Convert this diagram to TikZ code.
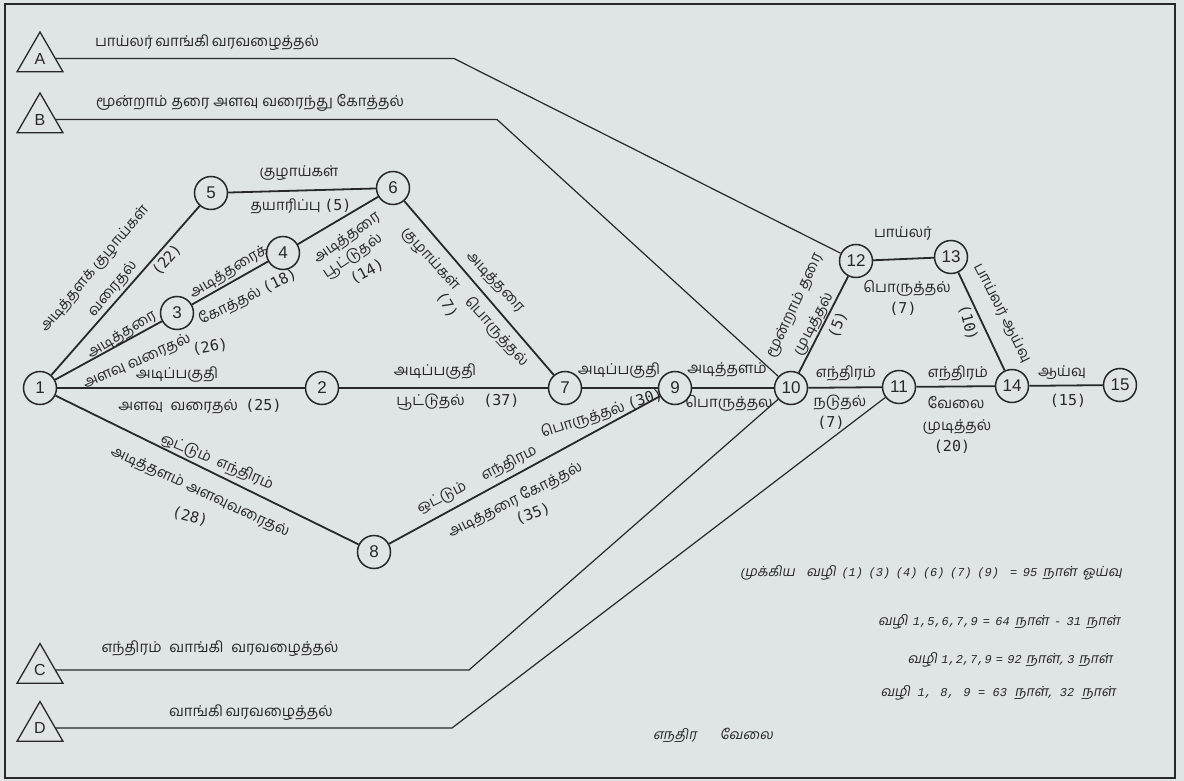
\documentclass[tikz,border=0pt]{standalone}
\usepackage{fontspec}
\setmainfont{Liberation Sans}
\newfontfamily\ta[Script=Tamil]{Hind Madurai}
\newfontfamily\tai[Script=Tamil,FakeSlant=0.18]{Hind Madurai}
\newfontfamily\dmono{DejaVu Sans Mono}
\newfontfamily\lmono{Liberation Mono}
\newcommand\pn[1]{{\dmono\fontsize{15}{16}\selectfont #1}}
\newcommand\sn[1]{{\lmono\itshape\fontsize{12}{16}\selectfont #1}}
\usetikzlibrary{shapes.geometric}
\definecolor{bgc}{RGB}{223,228,229}
\definecolor{ink}{RGB}{40,40,40}
\begin{document}
\begin{tikzpicture}[x=1pt,y=-1pt,
  ev/.style={circle,draw=ink,line width=1.5pt,minimum size=33pt,inner sep=0pt,font=\fontsize{17}{17}\selectfont,text=ink,fill=bgc},
  tri/.style={regular polygon,regular polygon sides=3,draw=ink,line width=1.3pt,minimum size=53pt,inner sep=0pt,font=\fontsize{16}{16}\selectfont,text=ink},
  act/.style={draw=ink,line width=1.8pt},
  feed/.style={draw=ink,line width=1.2pt},
  lb/.style={text=ink,inner sep=0pt,font=\ta\fontsize{15}{16}\selectfont},
  lbi/.style={text=ink,inner sep=0pt,font=\tai\fontsize{14}{16}\selectfont}]
\fill[bgc] (0,0) rectangle (1184,781);
\useasboundingbox (0,0) rectangle (1184,781);
\draw[ink,line width=1.2pt] (5,4) rectangle (1175,778);
% events
\node[ev] (n1) at (40,388) {1};
\node[ev] (n2) at (322,388) {2};
\node[ev] (n3) at (177,313) {3};
\node[ev] (n4) at (283,253) {4};
\node[ev] (n5) at (211,193) {5};
\node[ev] (n6) at (393,188) {6};
\node[ev] (n7) at (565,388) {7};
\node[ev] (n8) at (374,552) {8};
\node[ev] (n9) at (675,388) {9};
\node[ev] (n10) at (791,388) {10};
\node[ev] (n11) at (899,387) {11};
\node[ev] (n12) at (856,261) {12};
\node[ev] (n13) at (951,257) {13};
\node[ev] (n14) at (1012,386) {14};
\node[ev] (n15) at (1120,385) {15};
% feeder triangles
\node[tri] (A) at (40,58.5) {A};
\node[tri] (B) at (40,119.5) {B};
\node[tri] (C) at (40,670) {C};
\node[tri] (D) at (40,728) {D};
\coordinate (Ab) at (454,58.5);
\coordinate (Bb) at (497,119.5);
\coordinate (Cb) at (469,670);
\coordinate (Db) at (452,728);
\draw[feed] (A.east) -- (Ab) -- (n12);
\draw[feed] (B.east) -- (Bb) -- (n10);
\draw[feed] (C.east) -- (Cb) -- (n10);
\draw[feed] (D.east) -- (Db) -- (n11);
% activities
\draw[act] (n1) -- (n5);
\draw[act] (n1) -- (n3);
\draw[act] (n3) -- (n4);
\draw[act] (n4) -- (n6);
\draw[act] (n5) -- (n6);
\draw[act] (n6) -- (n7);
\draw[act] (n1) -- (n2);
\draw[act] (n2) -- (n7);
\draw[act] (n7) -- (n9);
\draw[act] (n1) -- (n8);
\draw[act] (n8) -- (n9);
\draw[act] (n9) -- (n10);
\draw[act] (n10) -- (n11);
\draw[act] (n11) -- (n14);
\draw[act] (n14) -- (n15);
\draw[act] (n10) -- (n12);
\draw[act] (n12) -- (n13);
\draw[act] (n13) -- (n14);
% horizontal labels
\node[lb] (h1) at (177,375) {அடிப்பகுதி};
\node[lb] (h2) at (200,407) {அளவு\ \ வரைதல்\ \ \pn{(25)}};
\node[lb] (h3) at (435,372) {அடிப்பகுதி};
\node[lb] (h4) at (458,402) {பூட்டுதல்\quad\ \pn{(37)}};
\node[lb] (h5) at (619,371) {அடிப்பகுதி};
\node[lb] (h6) at (299,173) {குழாய்கள்};
\node[lb] (h7) at (301,206) {தயாரிப்பு \pn{(5)}};
\node[lb] (h8) at (727,370) {அடித்தளம்};
\node[lb] (h9) at (729,403) {பொருத்தல};
\node[lb] (h10) at (846,373) {எந்திரம்};
\node[lb] (h11) at (840,403) {நடுதல்};
\node[lb] (h12) at (831,423) {\pn{(7)}};
\node[lb] (h13) at (958,373) {எந்திரம்};
\node[lb] (h14) at (956,403) {வேலை};
\node[lb] (h15) at (957,427) {முடித்தல்};
\node[lb] (h16) at (952,447) {\pn{(20)}};
\node[lb] (h17) at (1062,373) {ஆய்வு};
\node[lb] (h18) at (1068,401) {\pn{(15)}};
\node[lb] (h19) at (903,233) {பாய்லர்};
\node[lb] (h20) at (907,288) {பொருத்தல்};
\node[lb] (h21) at (903,309) {\pn{(7)}};
% sloped labels
\node[lb,rotate=50] (r1) at (95,269) {அடித்தளக் குழாய்கள்};
\node[lb,rotate=50] (r2) at (113,289) {வரைதல்};
\node[lb,rotate=50] (r3) at (167,260) {\pn{(22)}};
\node[lb,rotate=31] (r4) at (122,335) {அடித்தரை};
\node[lb,rotate=24] (r5) at (137,362) {அளவு வரைதல்};
\node[lb,rotate=10] (r6) at (210,347) {\pn{(26)}};
\node[lb,rotate=31] (r7) at (229,272) {அடித்தரைக்};
\node[lb,rotate=26] (r8) at (248,297) {கோத்தல் \pn{(18)}};
\node[lb,rotate=35] (r9) at (347,238) {அடித்தரை};
\node[lb,rotate=34] (r10) at (353,257) {பூட்டுதல்};
\node[lb,rotate=28] (r11) at (367,272) {\pn{(14)}};
\node[lb,rotate=-47] (r12) at (495,282) {அடித்தரை};
\node[lb,rotate=-48] (r13) at (465,297) {குழாய்கள்\quad பொருத்தல்};
\node[lb,rotate=-60] (r14) at (447,305) {\pn{(7)}};
\node[lb,rotate=-23] (r15) at (217,462) {ஒட்டும்\ \ எந்திரம்};
\node[lb,rotate=-25] (r16) at (200,492) {அடித்தளம்\ அளவுவரைதல்};
\node[lb,rotate=-15] (r17) at (190,517) {\pn{(28)}};
\node[lb,rotate=27] (r18) at (477,480) {ஒட்டும்\quad\ எந்திரம};
\node[lb,rotate=18] (r19) at (602,414) {பொருத்தல் \pn{(30)}};
\node[lb,rotate=27] (r20) at (515,500) {அடித்தரை கோத்தல்};
\node[lb,rotate=20] (r21) at (533,514) {\pn{(35)}};
\node[lb,rotate=65] (r22) at (795,306) {மூன்றாம் தரை};
\node[lb,rotate=62] (r23) at (814,324) {முடித்தல்};
\node[lb,rotate=68] (r24) at (838,325) {\pn{(5)}};
\node[lb,rotate=-75] (r25) at (968,323) {\pn{(10)}};
\node[lb,rotate=-63] (r26) at (1002,313) {பாய்லர் ஆய்வு};
% feeder labels
\node[lb] (ta) at (205.5,43) {\makebox[221pt][s]{பாய்லர் வாங்கி வரவழைத்தல்}};
\node[lb] (tb) at (250,103) {\makebox[308pt][s]{மூன்றாம் தரை அளவு வரைந்து கோத்தல்}};
\node[lb] (tc) at (220,649) {\makebox[237pt][s]{எந்திரம் வாங்கி வரவழைத்தல்}};
\node[lb] (td) at (250,713) {\makebox[162pt][s]{வாங்கி வரவழைத்தல்}};
% summary
\node[lbi] (s1) at (931,573) {\makebox[382pt][s]{முக்கிய \ வழி \sn{(1)} \sn{(3)} \sn{(4)} \sn{(6)} \sn{(7)} \sn{(9)} \ \sn{=} \sn{95} நாள் ஓய்வு}};
\node[lbi] (s2) at (999,622) {\makebox[242pt][s]{வழி \sn{1,5,6,7,9} \sn{=} \sn{64} நாள் \sn{-} \sn{31} நாள்}};
\node[lbi] (s3) at (1010,660) {\makebox[205pt][s]{வழி \sn{1,2,7,9} \sn{=} \sn{92} நாள், \sn{3} நாள்}};
\node[lbi] (s4) at (998,693) {\makebox[235pt][s]{வழி \sn{1,} \sn{8,} \sn{9} \sn{=} \sn{63} நாள், \sn{32} நாள்}};
\node[lbi] (s5) at (713,735) {\makebox[120pt][s]{எநதிர வேலை}};
\end{tikzpicture}
\end{document}
